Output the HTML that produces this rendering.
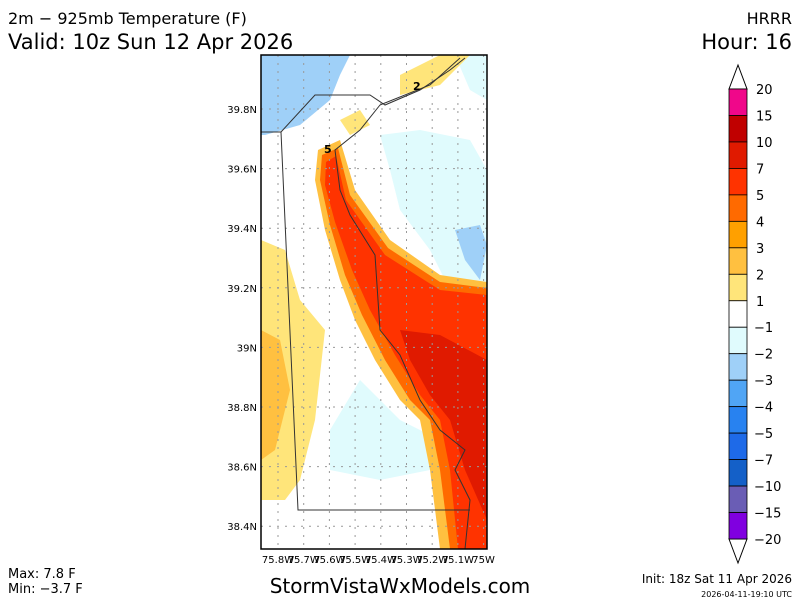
<!DOCTYPE html>
<html><head><meta charset="utf-8"><style>
body{margin:0;background:#fff;}
svg{display:block;font-family:"DejaVu Sans","Liberation Sans",sans-serif;}
</style></head><body>
<svg width="800" height="600" viewBox="0 0 800 600">
<rect width="800" height="600" fill="#fff"/>
<text x="8" y="24" font-size="16">2m − 925mb Temperature (F)</text>
<text x="8" y="49" font-size="21">Valid: 10z Sun 12 Apr 2026</text>
<text x="792" y="24" font-size="16" text-anchor="end">HRRR</text>
<text x="792" y="49" font-size="21" text-anchor="end">Hour: 16</text>
<g id="map">
<clipPath id="clip"><rect x="261" y="55" width="226" height="494"/></clipPath>
<g clip-path="url(#clip)">
<rect x="261" y="55" width="226" height="494" fill="#fff"/>
<polygon fill="#9fd0f8" points="261,55 350,55 340,75 330,100 300,125 265,135 261,135"/>
<polygon fill="#e0fbfd" points="380,135 420,130 470,140 487,170 487,290 450,290 430,250 400,210 390,170"/>
<polygon fill="#9fd0f8" points="455,230 480,225 487,245 480,280 465,260"/>
<polygon fill="#e0fbfd" points="360,380 400,420 440,440 430,470 380,480 330,470 330,430"/>
<polygon fill="#e0fbfd" points="455,55 487,55 487,100 470,90"/>
<polygon fill="#ffe57a" points="261,240 285,250 300,300 325,330 315,420 300,480 285,500 261,500"/>
<polygon fill="#ffc040" points="261,330 280,340 290,390 275,450 261,460"/>
<polygon fill="#ffe57a" points="400,75 440,55 470,55 440,85 400,95"/>
<polygon fill="#ffe57a" points="340,120 360,110 370,125 350,135"/>
<polygon fill="#ffc040" points="318,150 340,140 355,190 390,240 440,275 487,282 487,549 440,549 430,470 420,420 400,400 375,360 355,320 340,280 325,230 315,180"/>
<polygon fill="#ff6a00" points="322,155 338,148 350,195 388,248 440,282 487,288 487,549 450,549 440,470 430,420 410,400 385,360 362,315 345,275 330,225 320,180"/>
<polygon fill="#ff3300" points="326,162 336,156 346,200 385,255 440,290 487,295 487,549 458,549 450,470 440,420 420,395 395,355 370,310 352,270 335,222 325,185"/>
<polygon fill="#e01a00" points="400,330 440,335 487,360 487,520 465,470 450,420 430,395 410,360"/>
<g stroke="#999" stroke-dasharray="2,6" stroke-width="1" id="grid"></g>
<polyline fill="none" stroke="#333" stroke-width="1" points="281,132 298,510 470,510"/>
<polyline fill="none" stroke="#333" stroke-width="1" points="261,132 281,132 315,95 370,95 385,105 420,90 450,70 465,58"/>
<polyline fill="none" stroke="#333" stroke-width="1" points="460,58 430,85 380,105 360,130 335,150 340,190 350,215 375,255 380,330 400,355 420,400 440,430 465,450 455,470 470,500 465,549"/>
<text x="413" y="90" font-size="11" font-weight="bold">2</text>
<text x="324" y="153" font-size="11" font-weight="bold">5</text>
</g>
<rect x="261" y="55" width="226" height="494" fill="none" stroke="#000" stroke-width="1.5"/>
</g>
<g id="axes"></g>
<g id="colorbar"></g>
<text x="8" y="578" font-size="13">Max: 7.8 F</text>
<text x="8" y="593" font-size="13">Min: −3.7 F</text>
<text x="400" y="593" font-size="20" text-anchor="middle">StormVistaWxModels.com</text>
<text x="792" y="583" font-size="12" text-anchor="end">Init: 18z Sat 11 Apr 2026</text>
<text x="792" y="597" font-size="8" text-anchor="end">2026-04-11-19:10 UTC</text>
</svg>
<script>
const latLabels=["39.8N","39.6N","39.4N","39.2N","39N","38.8N","38.6N","38.4N"];
const latValues=[39.8,39.6,39.4,39.2,39.0,38.8,38.6,38.4];
const lonLabels=["75.8W","75.7W","75.6W","75.5W","75.4W","75.3W","75.2W","75.1W","75W"];
const lonValues=[-75.8,-75.7,-75.6,-75.5,-75.4,-75.3,-75.2,-75.1,-75.0];
const levelLabels=["20","15","10","7","5","4","3","2","1","−1","−2","−3","−4","−5","−7","−10","−15","−20"];
const levelColors=["#f0078a","#c00000","#e01a00","#ff3300","#ff6a00","#ffa000","#ffc040","#ffe57a","#ffffff","#e0fbfd","#9fd0f8","#50a5f5","#2882f0","#1e6ae8","#1460c8","#6a5db5","#8000e0"];
const NS="http://www.w3.org/2000/svg";
function yLat(v){return 109+(39.8-v)/0.2*59.6;}
function xLon(v){return 278+(v+75.8)/0.1*25.7;}
const axes=document.getElementById('axes'),grid=document.getElementById('grid'),cb=document.getElementById('colorbar');
latValues.forEach((v,i)=>{
 const y=yLat(v);
 const t=document.createElementNS(NS,'text');
 
 
 t.setAttribute('x',257);t.setAttribute('y',y+4);t.setAttribute('font-size',10);t.setAttribute('text-anchor','end');
 t.textContent=latLabels[i];axes.appendChild(t);
 const l=document.createElementNS(NS,'line');
 
 
 l.setAttribute('x1',261);l.setAttribute('x2',487);l.setAttribute('y1',y);l.setAttribute('y2',y);grid.appendChild(l);
});
lonValues.forEach((v,i)=>{
 const x=xLon(v);
 const t=document.createElementNS(NS,'text');
 
 
 t.setAttribute('x',x);t.setAttribute('y',563);t.setAttribute('font-size',10);t.setAttribute('text-anchor','middle');
 t.textContent=lonLabels[i];axes.appendChild(t);
 const l=document.createElementNS(NS,'line');
 
 
 l.setAttribute('x1',x);l.setAttribute('x2',x);l.setAttribute('y1',55);l.setAttribute('y2',549);grid.appendChild(l);
});
const cbTop=89,cbH=450/levelColors.length,cx=729,cw=18;
const up=document.createElementNS(NS,'polygon');


up.setAttribute('points',`${cx},${cbTop} ${cx+cw/2},${cbTop-24} ${cx+cw},${cbTop}`);up.setAttribute('fill','#fff');up.setAttribute('stroke','#000');cb.appendChild(up);
const dn=document.createElementNS(NS,'polygon');


dn.setAttribute('points',`${cx},${cbTop+450} ${cx+cw/2},${cbTop+474} ${cx+cw},${cbTop+450}`);dn.setAttribute('fill','#fff');dn.setAttribute('stroke','#000');cb.appendChild(dn);
levelColors.forEach((c,i)=>{
 const r=document.createElementNS(NS,'rect');
 
 
 r.setAttribute('x',cx);r.setAttribute('y',cbTop+i*cbH);r.setAttribute('width',cw);r.setAttribute('height',cbH);
 r.setAttribute('fill',c);r.setAttribute('stroke','#000');r.setAttribute('stroke-width',0.8);cb.appendChild(r);
});
levelLabels.forEach((s,i)=>{
 const t=document.createElementNS(NS,'text');
 
 
 t.setAttribute('x',s.startsWith('−')?754:756);t.setAttribute('y',cbTop+i*cbH+5);t.setAttribute('font-size',13);
 t.textContent=s;cb.appendChild(t);
});
</script>
</body></html>
